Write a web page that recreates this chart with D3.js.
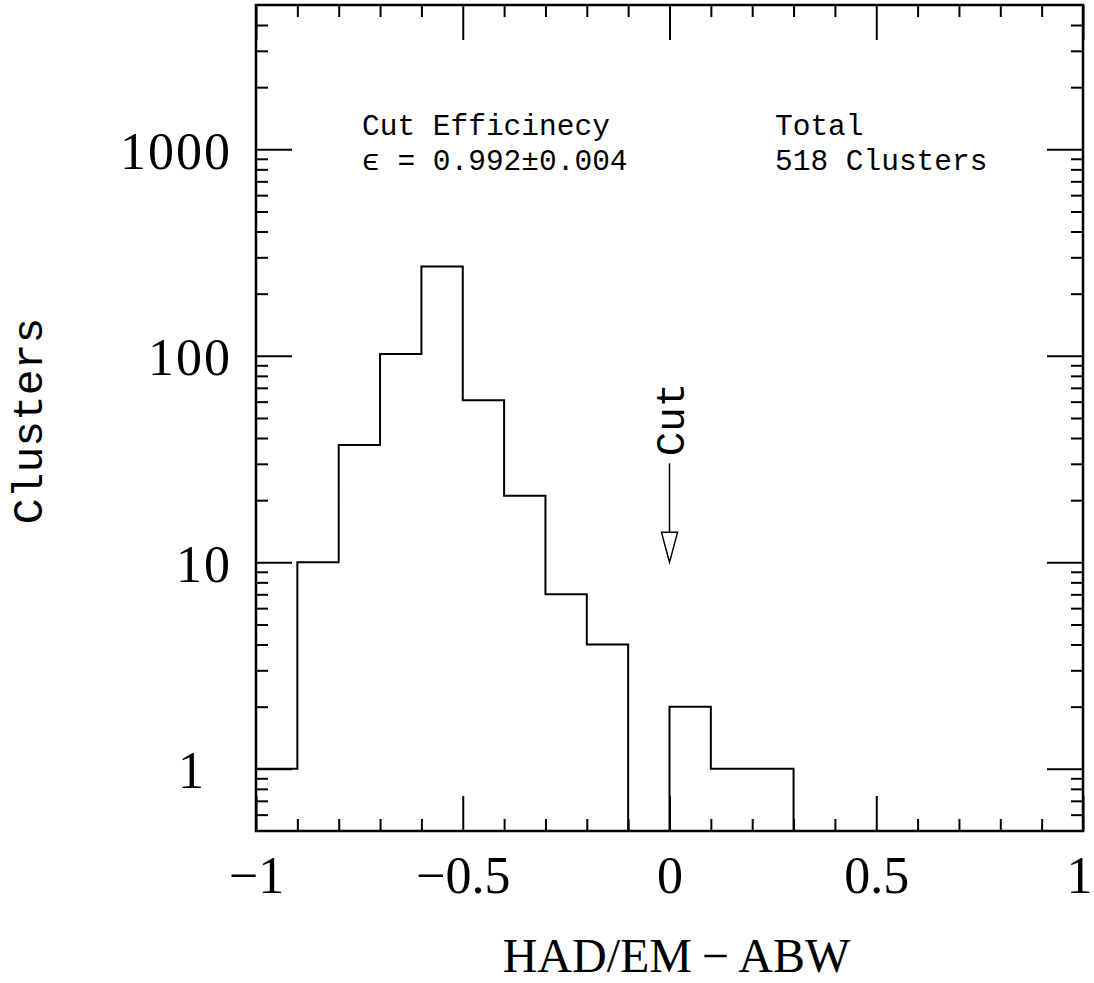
<!DOCTYPE html>
<html>
<head>
<meta charset="utf-8">
<script src="https://cdn.jsdelivr.net/npm/d3@7"></script>
<style>
  html, body { margin: 0; padding: 0; background: #fff; }
  svg { display: block; }
</style>
</head>
<body>
<svg id="chart" width="1094" height="983"></svg>
<script>
// ---- data ----
const binLow = [-1.0, -0.9, -0.8, -0.7, -0.6, -0.5, -0.4, -0.3, -0.2, -0.1, 0.0, 0.1, 0.2];
const binWidth = 0.1;
const counts = [1, 10, 37, 102, 271, 61, 21, 7, 4, 0, 2, 1, 1];
const xMajorTicks = [-1, -0.5, 0, 0.5, 1];
const xMinorTicks = [-0.9, -0.8, -0.7, -0.6, -0.4, -0.3, -0.2, -0.1, 0.1, 0.2, 0.3, 0.4, 0.6, 0.7, 0.8, 0.9];
const yMajorTicks = [1, 10, 100, 1000];
const yMinorTicks = [0.6, 0.7, 0.8, 0.9, 2, 3, 4, 5, 6, 7, 8, 9, 20, 30, 40, 50, 60, 70, 80, 90,
                     200, 300, 400, 500, 600, 700, 800, 900, 2000, 3000, 4000];
const xDomain = [-1, 1];
const yDomain = [0.5, 5000];
const xLabel = "HAD/EM\u2009\u2212\u2009ABW";
const yLabel = "Clusters";
const noteLeft = ["Cut Efficinecy", "\u03F5 = 0.992\u00B10.004"];
const noteRight = ["Total", "518 Clusters"];
const cutX = 0, cutTip = 10;

// ---- layout ----
const W = 1094, H = 983;
const m = {left: 256, top: 5, right: 11, bottom: 152};
const iw = W - m.left - m.right, ih = H - m.top - m.bottom;

const svg = d3.select("#chart");
const g = svg.append("g").attr("transform", `translate(${m.left},${m.top})`);

const x = d3.scaleLinear().domain(xDomain).range([0, iw]);
const y = d3.scaleLog().domain(yDomain).range([ih, 0]);

const fmtX = d => d === 0 ? "0" : (d < 0 ? "\u2212" + Math.abs(d) : String(d));
const serif = "'Liberation Serif', 'Times New Roman', serif";
const mono = "'Liberation Mono', 'Courier New', monospace";

function styleAxis(sel) {
  sel.select(".domain").remove();
  sel.selectAll(".tick line").attr("stroke", "#000").attr("stroke-width", 2);
  sel.selectAll(".tick text").attr("fill", "#000").style("font-family", serif).style("font-size", "52px");
}

// bottom axis (inward ticks)
const ba = g.append("g").attr("transform", `translate(0,${ih})`)
  .call(d3.axisBottom(x).tickValues(xMajorTicks).tickSize(-35).tickPadding(25).tickFormat(fmtX))
  .call(styleAxis);
ba.selectAll(".tick text").attr("dx", d => d === 1 ? -4 : 0);
g.append("g").attr("transform", `translate(0,${ih})`)
  .call(d3.axisBottom(x).tickValues(xMinorTicks).tickSize(-12).tickFormat(""))
  .call(styleAxis);
// top axis
g.append("g")
  .call(d3.axisTop(x).tickValues(xMajorTicks).tickSize(-35).tickFormat(""))
  .call(styleAxis);
g.append("g")
  .call(d3.axisTop(x).tickValues(xMinorTicks).tickSize(-12).tickFormat(""))
  .call(styleAxis);
// left axis
const la = g.append("g")
  .call(d3.axisLeft(y).tickValues(yMajorTicks).tickSize(-36).tickPadding(24).tickFormat(d3.format("d")))
  .call(styleAxis);
la.selectAll(".tick text").attr("dy", "0.36em").attr("dx", d => d === 1 ? -26 : 0)
  .style("letter-spacing", "2px");
g.append("g")
  .call(d3.axisLeft(y).tickValues(yMinorTicks).tickSize(-12).tickFormat(""))
  .call(styleAxis);
// right axis
g.append("g").attr("transform", `translate(${iw},0)`)
  .call(d3.axisRight(y).tickValues(yMajorTicks).tickSize(-36).tickFormat(""))
  .call(styleAxis);
g.append("g").attr("transform", `translate(${iw},0)`)
  .call(d3.axisRight(y).tickValues(yMinorTicks).tickSize(-12).tickFormat(""))
  .call(styleAxis);

// frame
g.append("rect").attr("x", 0).attr("y", 0).attr("width", iw).attr("height", ih)
  .attr("fill", "none").attr("stroke", "#000").attr("stroke-width", 2.5);

// histogram step line
const yv = v => v > yDomain[0] ? y(v) : ih;
const pts = [];
binLow.forEach((lo, i) => {
  const hi = lo + binWidth;
  pts.push([x(lo), yv(counts[i])]);
  pts.push([x(hi), yv(counts[i])]);
});
pts.push([x(binLow[binLow.length - 1] + binWidth), ih]);
g.append("path").attr("d", d3.line()(pts))
  .attr("fill", "none").attr("stroke", "#000").attr("stroke-width", 2).attr("stroke-linejoin", "miter");

// notes
function note(lines, px) {
  const t = g.append("text").attr("x", px).attr("y", 135 - m.top)
    .style("font-family", mono).style("font-size", "29.5px").attr("fill", "#000");
  lines.forEach((s, i) => t.append("tspan").attr("x", px).attr("dy", i === 0 ? 0 : 35).text(s));
}
note(noteLeft, 362 - m.left);
note(noteRight, 775 - m.left);

// cut arrow
const ax = x(cutX);
const tipY = y(cutTip);
g.append("line").attr("x1", ax).attr("x2", ax).attr("y1", tipY - 99).attr("y2", tipY - 30)
  .attr("stroke", "#000").attr("stroke-width", 1.5);
g.append("path")
  .attr("d", `M${ax - 8},${tipY - 30} L${ax + 8},${tipY - 30} L${ax},${tipY} Z`)
  .attr("fill", "#fff").attr("stroke", "#000").attr("stroke-width", 1.5);
g.append("text").attr("transform", `translate(${ax + 14},${tipY - 106}) rotate(-90)`)
  .style("font-family", mono).style("font-size", "41px").attr("fill", "#000").text("Cut");

// axis labels
svg.append("text").attr("x", m.left + iw / 2 + 7).attr("y", 972)
  .attr("text-anchor", "middle").style("font-family", serif).style("font-size", "48px")
  .attr("fill", "#000").text(xLabel);
svg.append("text").attr("transform", `translate(42,${421}) rotate(-90)`)
  .attr("text-anchor", "middle").style("font-family", mono).style("font-size", "43px")
  .attr("fill", "#000").text(yLabel);
</script>
</body>
</html>
